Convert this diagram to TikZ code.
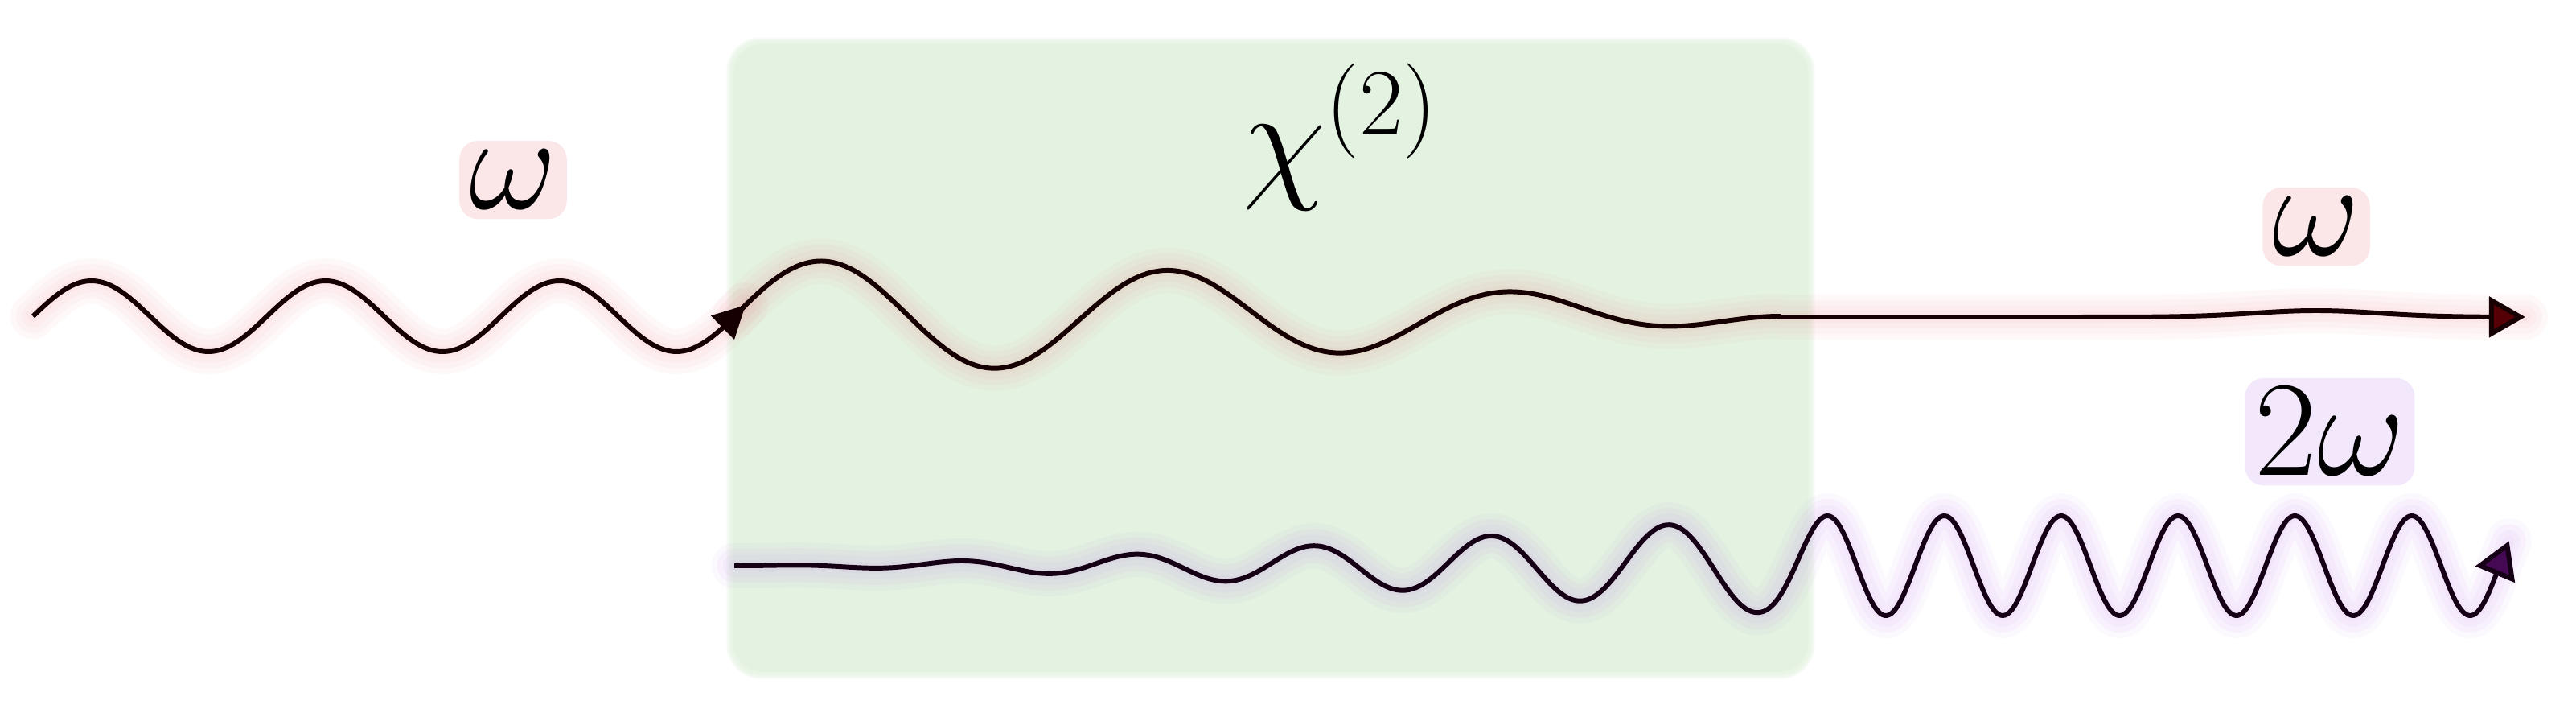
\RequirePackage{fix-cm}
\documentclass[tikz,border=0pt]{standalone}
\usetikzlibrary{arrows.meta}

\definecolor{crystalgreen}{RGB}{228,243,225}
\definecolor{pinkglow}{RGB}{240,140,150}
\definecolor{violetglow}{RGB}{190,130,235}
\definecolor{pinkbox}{RGB}{251,231,232}
\definecolor{violetbox}{RGB}{243,232,251}
\definecolor{redline}{RGB}{22,0,2}
\definecolor{violetline}{RGB}{22,0,22}
\definecolor{redtip}{RGB}{85,0,5}
\definecolor{violettip}{RGB}{70,10,85}

% the three waves as plots
\newcommand{\wavein}{plot[domain=0.41:9.13, samples=240] (\x,{win(\x)}) -- plot[domain=9.13:9.27, samples=8] (\x,{wcr(\x)})}
\newcommand{\waveout}{plot[domain=9.13:22.13, samples=300] (\x,{wcr(\x)}) -- plot[domain=22.13:31.40, samples=160] (\x,{wres(\x)})}
\newcommand{\wavedbl}{plot[domain=9.13:31.20, samples=800] (\x,{wdbl(\x)})}

\tikzset{
  wave/.style={line width=1.7pt, line join=round},
  halo/.style={line width=#1, opacity=0.06, line cap=round, line join=round},
  freqlabel/.style={font=\fontsize{48}{56}\selectfont, inner sep=2pt, rounded corners=5pt},
}

\begin{document}
\begin{tikzpicture}[declare function={
    win(\x)=4.93+0.44*sin(360*(\x-0.41)/2.91);
    wcr(\x)=4.93+0.69*(1-((\x-9.13)/13)^2)*sin(360*(\x-9.13)/4.34);
    wres(\x)=4.92+0.08*exp(-((\x-28.8)/1.1)^2);
    dph(\x)=(\x<21.85) ? (\x-9.13)/2.21 : ((\x<22.75) ? 5.7557+0.4525*(\x-21.85)+0.13094*(\x-21.85)^2 : 6.2690+0.6882*(\x-22.75));
    damp(\x)=0.62*min((\x-9.13)/13.26,1)*sqrt(min((\x-9.13)/13.26,1));
    wdbl(\x)=1.83+damp(\x)*sin(360*dph(\x));
  }]
  \useasboundingbox (0,0) rectangle (32.03,8.86);

  % crystal
  \node[fill=crystalgreen, rounded corners=0.35cm, minimum width=13.36cm, minimum height=7.80cm, inner sep=0pt] (crystal) at (15.80,4.41) {};
  \foreach \w in {0.04,0.08,0.12,0.16}
    \draw[crystalgreen, opacity=0.35, line width=\w cm, rounded corners=0.35cm] (crystal.south west) rectangle (crystal.north east);
  \node[font=\fontsize{48}{56}\selectfont, anchor=base] (chi) at (16.67,6.57) {$\chi^{(2)}$};

  % labels
  \node[freqlabel, fill=pinkbox, draw=pinkbox, line width=3pt, anchor=base] (win) at (6.38,6.26) {$\omega$};
  \node[freqlabel, fill=pinkbox, draw=pinkbox, line width=3pt, anchor=base] (wout) at (28.80,5.68) {$\omega$};
  \node[freqlabel, fill=violetbox, draw=violetbox, line width=3pt, anchor=base] (wdbl) at (28.97,2.95) {$2\omega$};

  % glows
  \foreach \w in {4,8,12,16} {
    \draw[halo=\w pt, pinkglow] \wavein;
    \draw[halo=\w pt, pinkglow] \waveout;
    \draw[halo=\w pt, violetglow] \wavedbl;
  }

  % waves
  \draw[wave, redline, -{Triangle[length=4mm, width=4mm, fill=redline]}] \wavein;
  \draw[wave, redline, -{Triangle[length=4.5mm, width=5mm, fill=redtip]}] \waveout;
  \draw[wave, violetline, -{Triangle[length=4.5mm, width=5.2mm, fill=violettip]}] \wavedbl;
\end{tikzpicture}
\end{document}
